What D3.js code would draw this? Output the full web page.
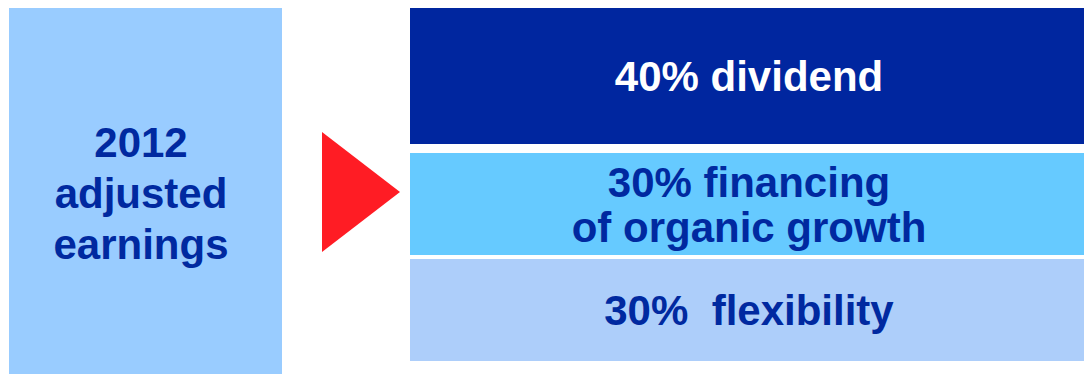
<!DOCTYPE html>
<html>
<head>
<meta charset="utf-8">
<script src="https://cdn.jsdelivr.net/npm/d3@7"></script>
<style>
  html, body { margin: 0; padding: 0; background: #ffffff; }
  svg { display: block; }
  text { font-family: "Liberation Sans", Arial, sans-serif; font-weight: bold; }
</style>
</head>
<body>
<svg id="chart" width="1084" height="374"></svg>
<script>
// Allocation of 2012 adjusted earnings
const sourceLines = ["2012", "adjusted", "earnings"];
const categories = ["dividend", "financing of organic growth", "flexibility"];
const shares = [40, 30, 30];
const labelLines = [
  ["40% dividend"],
  ["30% financing", "of organic growth"],
  ["30%\u00a0\u00a0flexibility"]
];
const fills = ["#00269F", "#66CAFF", "#ADCEFA"];
const textColors = ["#ffffff", "#0029A0", "#0029A0"];

(function draw() {
  const svg = d3.select("#chart");

  // Source box on the left
  const src = { x0: 9, x1: 282, y0: 8, y1: 374 };
  svg.append("rect")
    .attr("x", src.x0).attr("y", src.y0)
    .attr("width", src.x1 - src.x0).attr("height", src.y1 - src.y0)
    .attr("fill", "#99CCFF");

  const srcLineH = 51;
  const srcCx = 141;
  const srcMid = 208;
  svg.append("g").selectAll("text")
    .data(sourceLines)
    .join("text")
    .attr("x", srcCx)
    .attr("y", (d, i) => srcMid + (i - (sourceLines.length - 1) / 2) * srcLineH)
    .attr("text-anchor", "middle")
    .attr("font-size", 42)
    .attr("fill", "#0029A0")
    .text(d => d);

  // Arrow
  const tri = { x0: 322, x1: 400, y0: 132, y1: 252 };
  svg.append("path")
    .attr("d", d3.line()([[tri.x0, tri.y0], [tri.x1, (tri.y0 + tri.y1) / 2], [tri.x0, tri.y1]]) + "Z")
    .attr("fill", "#FF1C24");

  // Stacked split of earnings
  const gaps = [0, 9, 4];
  const totalGap = d3.sum(gaps);
  const yTop = 8, yBottom = 361;
  const x = d3.scaleLinear().domain([0, 1]).range([410, 1084]);
  const y = d3.scaleLinear().domain([0, d3.sum(shares)]).range([0, yBottom - yTop - totalGap]);

  const starts = d3.cumsum([0, ...shares]);
  const segs = shares.map((v, i) => {
    const offset = d3.sum(gaps.slice(0, i + 1));
    const y0 = yTop + offset + y(starts[i]);
    const y1 = y0 + y(v);
    return { cat: categories[i], value: v, y0, y1, i };
  });

  const g = svg.append("g");
  g.selectAll("rect")
    .data(segs)
    .join("rect")
    .attr("x", x(0))
    .attr("y", d => d.y0)
    .attr("width", x(1) - x(0))
    .attr("height", d => d.y1 - d.y0)
    .attr("fill", d => fills[d.i]);

  const lineH = 45;
  g.selectAll("g.lbl")
    .data(segs)
    .join("g")
    .attr("class", "lbl")
    .each(function (d) {
      const lines = labelLines[d.i];
      const mid = (d.y0 + d.y1) / 2;
      d3.select(this).selectAll("text")
        .data(lines)
        .join("text")
        .attr("x", (x(0) + x(1)) / 2 + 2)
        .attr("y", (t, j) => mid + (j - (lines.length - 1) / 2) * lineH + 15)
        .attr("text-anchor", "middle")
        .attr("font-size", 42)
        .attr("fill", textColors[d.i])
        .text(t => t);
    });
})();
</script>
</body>
</html>
